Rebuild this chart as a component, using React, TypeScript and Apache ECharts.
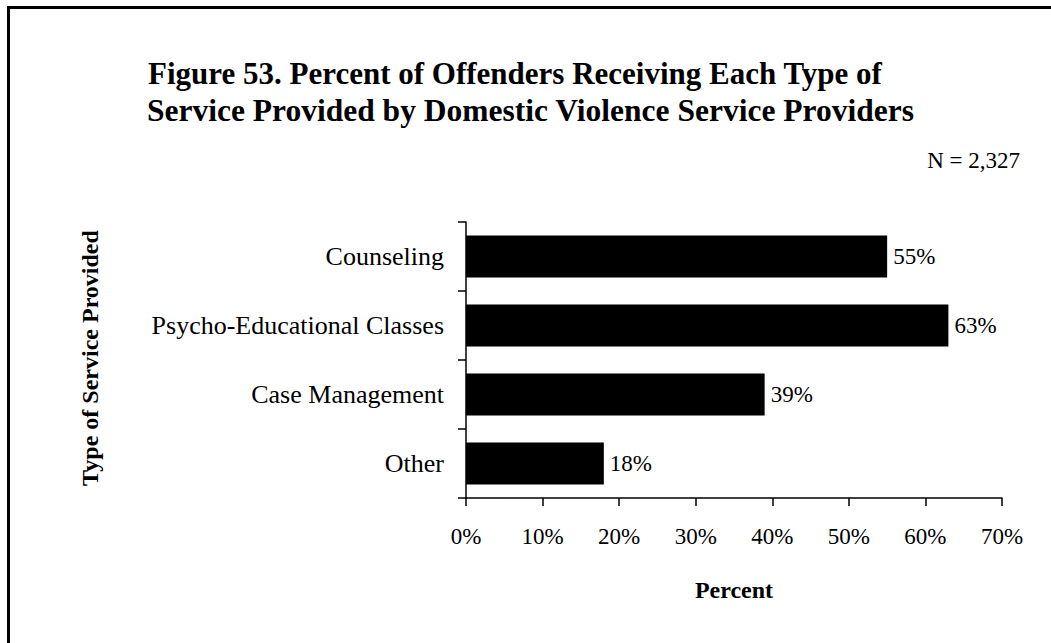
import React, { useEffect, useRef } from "react";
import * as echarts from "echarts";

const categories = ["Counseling", "Psycho-Educational Classes", "Case Management", "Other"];
const percents = [55, 63, 39, 18];
const xTicks = [0, 10, 20, 30, 40, 50, 60, 70];
const titleLines = [
  "Figure 53. Percent of Offenders Receiving Each Type of",
  "Service Provided by Domestic Violence Service Providers",
];
const nLabel = "N = 2,327";
const yTitle = "Type of Service Provided";
const xTitle = "Percent";

const FONT = "'Liberation Serif', 'Times New Roman', serif";

export default function App() {
  const ref = useRef<HTMLDivElement>(null);
  useEffect(() => {
    const chart = echarts.init(ref.current!, null, { renderer: "svg" });
    chart.setOption({
      animation: false,
      backgroundColor: "#ffffff",
      textStyle: { fontFamily: FONT },
      grid: { left: 466, right: 49, top: 222, bottom: 145, containLabel: false },
      xAxis: {
        type: "value",
        min: xTicks[0],
        max: xTicks[xTicks.length - 1],
        interval: 10,
        axisLine: { show: true, lineStyle: { color: "#000", width: 1.5 } },
        axisTick: { show: true, length: 8, lineStyle: { color: "#000", width: 1.5 } },
        splitLine: { show: false },
        axisLabel: {
          formatter: (v: number) => v + "%",
          color: "#000",
          fontFamily: FONT,
          fontSize: 23,
          margin: 27,
        },
        name: xTitle,
        nameLocation: "middle",
        nameGap: 80,
        nameTextStyle: { fontFamily: FONT, fontSize: 24, fontWeight: "bold", color: "#000" },
      },
      yAxis: {
        type: "category",
        data: categories,
        inverse: true,
        axisLine: { show: true, lineStyle: { color: "#000", width: 1.5 } },
        axisTick: { show: true, length: 8, lineStyle: { color: "#000", width: 1.5 } },
        axisLabel: {
          color: "#000",
          fontFamily: FONT,
          fontSize: 26,
          margin: 22,
        },
      },
      series: [
        {
          type: "bar",
          data: percents,
          barWidth: "61%",
          itemStyle: { color: "#000" },
          label: {
            show: true,
            position: "right",
            distance: 6,
            formatter: (p: any) => p.value + "%",
            color: "#000",
            fontFamily: FONT,
            fontSize: 23,
          },
        },
      ],
      graphic: [
        {
          type: "rect",
          shape: { x: 8.5, y: 7.5, width: 1200, height: 800 },
          style: { fill: "none", stroke: "#000", lineWidth: 3 },
          silent: true,
        },
        {
          type: "text",
          x: 148,
          y: 73,
          style: {
            text: titleLines[0],
            font: `bold 31px ${FONT}`,
            fill: "#000",
            textAlign: "left",
            textVerticalAlign: "middle",
          },
        },
        {
          type: "text",
          x: 147,
          y: 110,
          style: {
            text: titleLines[1],
            font: `bold 31.5px ${FONT}`,
            fill: "#000",
            textAlign: "left",
            textVerticalAlign: "middle",
          },
        },
        {
          type: "text",
          x: 1020,
          y: 160,
          style: {
            text: nLabel,
            font: `23px ${FONT}`,
            fill: "#000",
            textAlign: "right",
            textVerticalAlign: "middle",
          },
        },
        {
          type: "text",
          x: 90,
          y: 358,
          rotation: Math.PI / 2,
          style: {
            text: yTitle,
            font: `bold 24px ${FONT}`,
            fill: "#000",
            textAlign: "center",
            textVerticalAlign: "middle",
          },
        },
      ],
    });
    return () => chart.dispose();
  }, []);
  return (
    <div
      ref={ref}
      style={{ position: "fixed", left: 0, top: 0, width: 1051, height: 643 }}
    />
  );
}
